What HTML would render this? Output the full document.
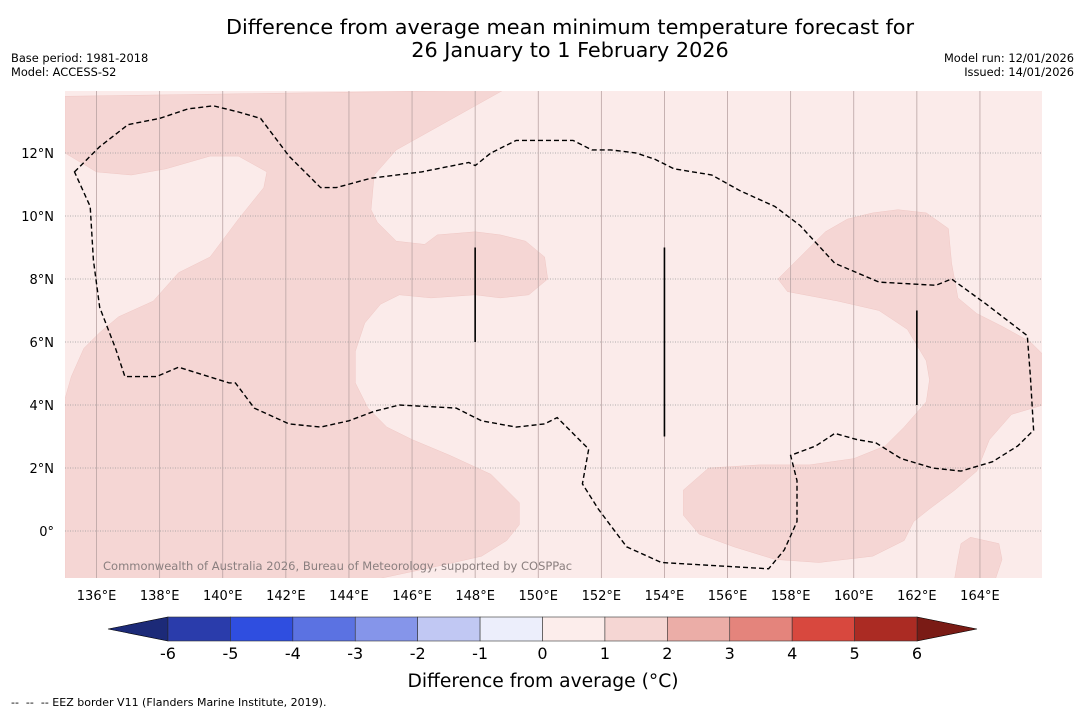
<!DOCTYPE html>
<html><head><meta charset="utf-8"><style>
body{margin:0;background:#fff;font-family:"Liberation Sans","DejaVu Sans",sans-serif;}
svg text{font-family:"DejaVu Sans","Liberation Sans",sans-serif;}
</style></head><body>
<svg id="chart" width="1085" height="713" xmlns="http://www.w3.org/2000/svg">
<rect width="1085" height="713" fill="#fff"/>
<text x="570" y="34" font-size="20.8" text-anchor="middle">Difference from average mean minimum temperature forecast for</text>
<text x="570" y="57" font-size="20.8" text-anchor="middle">26 January to 1 February 2026</text>
<text x="11" y="62" font-size="11.4">Base period: 1981-2018</text>
<text x="11" y="76" font-size="11.4">Model: ACCESS-S2</text>
<text x="1074" y="62" font-size="11.4" text-anchor="end">Model run: 12/01/2026</text>
<text x="1074" y="76" font-size="11.4" text-anchor="end">Issued: 14/01/2026</text>
<defs><clipPath id="mapclip"><rect x="65" y="91" width="977" height="487"/></clipPath></defs>
<g id="map" clip-path="url(#mapclip)"><rect x="65" y="91" width="977" height="487" fill="#fbebea"/></g>
<g id="axes"></g>
<g id="cbar"></g>
<text x="543" y="687" font-size="18.7" text-anchor="middle">Difference from average (°C)</text>
<text x="11" y="706" font-size="11" style="white-space:pre" xml:space="preserve">--  --  -- EEZ border V11 (Flanders Marine Institute, 2019).</text>
</svg>
<script>
const lonTicks=[136,138,140,142,144,146,148,150,152,154,156,158,160,162,164];
const latTicks=[0,2,4,6,8,10,12];
const cbarBounds=[-6,-5,-4,-3,-2,-1,0,1,2,3,4,5,6];
const cbarColors=['#2a3cab','#2f4ee0','#5b72e2','#8595ea','#c1c8f3','#eceefb','#fcedeb','#f5d6d3','#ebada7','#e4847c','#d8483e','#ab2b23'];
const warmWest=[[135,13.8],[148.9,14],[145.5,12.1],[144.8,11.3],[144.7,10.2],[144.9,9.8],[145.5,9.2],[146.4,9.1],[146.8,9.4],[148.0,9.5],[148.8,9.4],[149.6,9.2],[150.2,8.7],[150.3,8.0],[149.7,7.5],[148.8,7.4],[148,7.5],[146.6,7.4],[145.6,7.5],[145.0,7.2],[144.5,6.6],[144.2,5.7],[144.2,4.7],[144.6,3.9],[145.2,3.3],[146.0,2.9],[147.2,2.4],[148.5,1.8],[149,1.3],[149.4,0.9],[149.4,0.2],[149,-0.3],[148.2,-0.8],[146.9,-1.1],[145,-1.5],[135,-1.5],[135,4.2],[135.2,4.9],[135.6,5.8],[136.1,6.3],[136.7,6.8],[137.8,7.3],[138.6,8.2],[139.6,8.7],[140.5,9.9],[141.3,10.9],[141.4,11.4],[140.5,11.9],[139.6,11.9],[138.2,11.5],[137.1,11.3],[136,11.4],[135,12]];
const warmEast=[[157.6,8.0],[158.3,8.7],[159.1,9.5],[159.8,9.9],[160.6,10.1],[161.4,10.2],[162.3,10.1],[163,9.6],[163.1,8.5],[163.3,7.4],[163.9,6.9],[164.7,6.5],[165.6,6.0],[166,5.6],[166,4.0],[165,3.7],[164.3,2.9],[163.9,1.9],[163.2,1.3],[162.4,0.7],[161.9,0.3],[161.6,-0.3],[160.6,-0.8],[158.9,-1.0],[157.5,-0.9],[156.2,-0.5],[155.1,-0.1],[154.6,0.5],[154.6,1.3],[155.4,2.0],[157,2.1],[158.6,2.1],[160,2.3],[161,2.7],[161.6,3.3],[162.3,4.1],[162.4,4.8],[162.3,5.4],[161.7,6.4],[160.8,7.0],[159.5,7.3],[157.9,7.6]];
const warmSE=[[163.4,-0.4],[163.7,-0.2],[164.6,-0.4],[164.7,-0.9],[164.5,-1.5],[163.2,-1.5],[163.3,-0.9]];
const eez=[[135.3,11.4],[135.6,11.7],[136.1,12.2],[137,12.9],[138,13.1],[138.9,13.4],[139.7,13.5],[140.5,13.3],[141.2,13.1],[142.1,11.9],[143.1,10.9],[143.6,10.9],[144.7,11.2],[146.3,11.4],[147.8,11.7],[148,11.6],[148.5,12],[149.3,12.4],[150.1,12.4],[151.1,12.4],[151.7,12.1],[152.3,12.1],[153.1,12.0],[153.7,11.8],[154.3,11.5],[154.9,11.4],[155.5,11.3],[156.4,10.8],[157.5,10.3],[158.3,9.7],[159.4,8.5],[160.8,7.9],[162.6,7.8],[163.1,8.0],[164.2,7.2],[165.5,6.2],[165.6,4.9],[165.7,3.2],[165.2,2.7],[164.4,2.2],[163.4,1.9],[162.5,2.0],[161.5,2.3],[160.7,2.8],[160.1,2.9],[159.4,3.1],[158.8,2.7],[158,2.4],[158.2,1.6],[158.2,0.3],[157.8,-0.6],[157.3,-1.2],[153.9,-1.0],[152.8,-0.5],[151.9,0.7],[151.4,1.5],[151.6,2.6],[151.2,3.0],[150.6,3.6],[150.2,3.4],[149.3,3.3],[148.2,3.5],[147.4,3.9],[145.6,4.0],[144.8,3.8],[144,3.5],[143.1,3.3],[142.1,3.4],[141.0,3.9],[140.4,4.7],[140.2,4.7],[138.6,5.2],[137.9,4.9],[136.9,4.9],[136.6,5.8],[136.1,7.1],[135.9,8.6],[135.8,10.3]];
const meridianSegs=[[148,9,6],[154,9,3],[162,7,4]];
const W=(lon)=>65+(lon-135)*31.55, H=(lat)=>531-lat*31.5;
const NS='http://www.w3.org/2000/svg';
function mk(t,a,p){const e=document.createElementNS(NS,t);for(const k in a)e.setAttribute(k,a[k]);p.appendChild(e);return e;}
const map=document.getElementById('map');
const pts=(arr)=>arr.map(p=>W(p[0]).toFixed(1)+','+H(p[1]).toFixed(1)).join(' ');
[[warmWest,'warm-region-west'],[warmEast,'warm-region-east'],[warmSE,'warm-region-southeast']].forEach(([a,n])=>{
 const e=mk('polygon',{points:pts(a),fill:'#f5d6d4',stroke:'#f0c8c5','stroke-width':0.5},map);
 
 
});
lonTicks.forEach(l=>{const e=mk('line',{x1:W(l),x2:W(l),y1:91,y2:578,stroke:'#b9a3a3','stroke-width':0.8},map);
 
 });
latTicks.forEach(l=>{const e=mk('line',{x1:65,x2:1042,y1:H(l),y2:H(l),stroke:'#999','stroke-width':0.8,'stroke-dasharray':'1,1.5'},map);
 
 });
const ez=mk('polygon',{points:pts(eez),fill:'none',stroke:'#000','stroke-width':1.4,'stroke-dasharray':'5,3'},map);


meridianSegs.forEach(s=>{const e=mk('line',{x1:W(s[0]),x2:W(s[0]),y1:H(s[1]),y2:H(s[2]),stroke:'#000','stroke-width':1.6},map);
 
 });
const cp=mk('text',{x:103,y:570,'font-size':11.5,fill:'#8a7f7f'},map);
cp.textContent='Commonwealth of Australia 2026, Bureau of Meteorology, supported by COSPPac';


const ax=document.getElementById('axes');
lonTicks.forEach(l=>{const t=mk('text',{x:W(l),y:600,'font-size':13,'text-anchor':'middle'},ax);t.textContent=l+'°E';
 
 });
latTicks.forEach(l=>{const t=mk('text',{x:54,y:H(l)+5,'font-size':13,'text-anchor':'end'},ax);t.textContent=l===0?'0°':l+'°N';
 
 });
const cb=document.getElementById('cbar');
const cx0=168,cx1=917,cy=617,ch=24,sw=(cx1-cx0)/cbarColors.length;
const lo=mk('polygon',{points:`108,${cy+ch/2} ${cx0},${cy} ${cx0},${cy+ch}`,fill:'#1c2a78',stroke:'#000','stroke-width':0.6},cb);


const hi=mk('polygon',{points:`977,${cy+ch/2} ${cx1},${cy} ${cx1},${cy+ch}`,fill:'#7a1b15',stroke:'#000','stroke-width':0.6},cb);


cbarColors.forEach((c,i)=>{const r=mk('rect',{x:cx0+i*sw,y:cy,width:sw,height:ch,fill:c,stroke:'#333','stroke-width':0.6},cb);
 
 });
cbarBounds.forEach((b,i)=>{const t=mk('text',{x:cx0+i*sw,y:659,'font-size':16,'text-anchor':'middle'},cb);t.textContent=b;
 
 });
</script>
</body></html>
